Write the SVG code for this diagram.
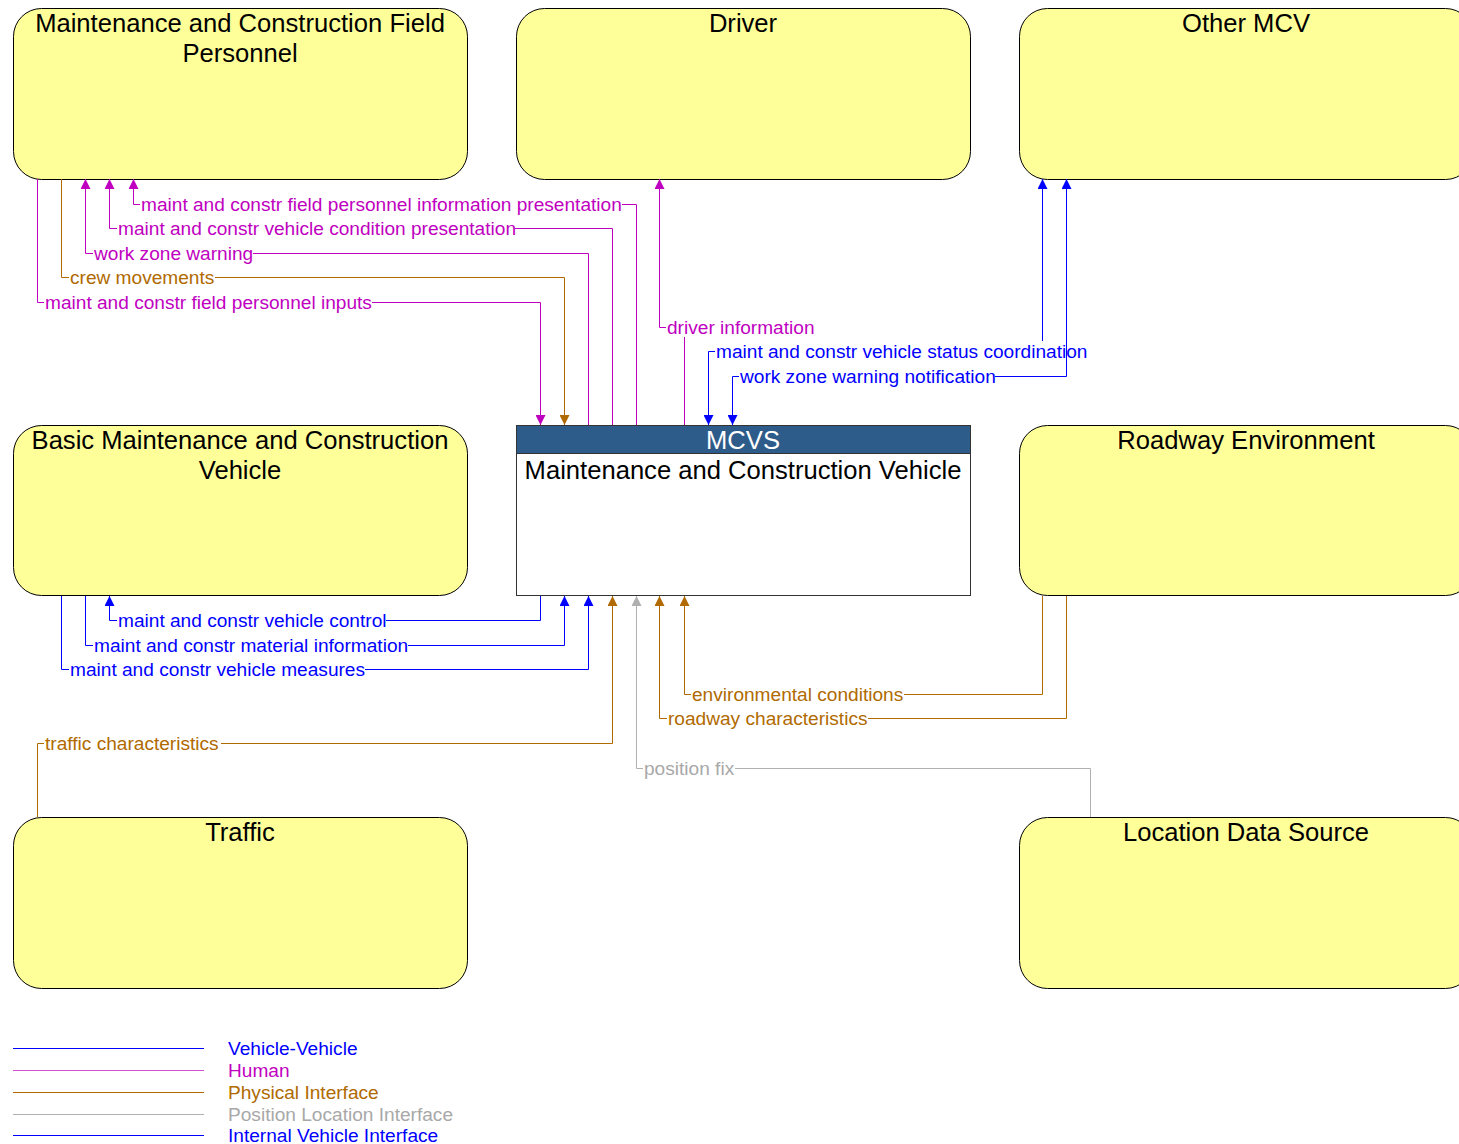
<svg xmlns="http://www.w3.org/2000/svg" width="1459" height="1144" viewBox="0 0 1459 1144">
<style>
.node{fill:#FFFF99;stroke:#000;stroke-width:1}
.title{font-family:"Liberation Sans",Arial,sans-serif;font-size:25.6px;fill:#000;text-anchor:middle}
.lbl{font-family:"Liberation Sans",Arial,sans-serif;font-size:19.1px}
.bg{fill:#fff}
.c{fill:none;stroke-width:1}
.hum{stroke:#C000C0}.humt{fill:#C000C0}
.veh{stroke:#0000FF}.veht{fill:#0000FF}
.phy{stroke:#B06A00}.phyt{fill:#B06A00}
.pos{stroke:#B0B0B0}.post{fill:#A8A8A8}
</style>
<defs>
<marker id="aH" viewBox="0 0 10 10" refX="10" refY="5" markerWidth="10" markerHeight="10" markerUnits="userSpaceOnUse" orient="auto-start-reverse"><path d="M0,0L10,5L0,10z" fill="#C000C0"/></marker>
<marker id="aV" viewBox="0 0 10 10" refX="10" refY="5" markerWidth="10" markerHeight="10" markerUnits="userSpaceOnUse" orient="auto-start-reverse"><path d="M0,0L10,5L0,10z" fill="#0000FF"/></marker>
<marker id="aP" viewBox="0 0 10 10" refX="10" refY="5" markerWidth="10" markerHeight="10" markerUnits="userSpaceOnUse" orient="auto-start-reverse"><path d="M0,0L10,5L0,10z" fill="#B06A00"/></marker>
<marker id="aL" viewBox="0 0 10 10" refX="10" refY="5" markerWidth="10" markerHeight="10" markerUnits="userSpaceOnUse" orient="auto-start-reverse"><path d="M0,0L10,5L0,10z" fill="#B0B0B0"/></marker>
</defs>
<rect width="1459" height="1144" fill="#fff"/>

<g id="node-field-personnel">
<rect class="node" x="13.5" y="8.5" width="454" height="171" rx="28"/>
<text class="title" x="240" y="32">Maintenance and Construction Field</text>
<text class="title" x="240" y="62">Personnel</text>
</g>
<g id="node-driver">
<rect class="node" x="516.5" y="8.5" width="454" height="171" rx="28"/>
<text class="title" x="743" y="32">Driver</text>
</g>
<g id="node-other-mcv">
<rect class="node" x="1019.5" y="8.5" width="454" height="171" rx="28"/>
<text class="title" x="1246" y="32">Other MCV</text>
</g>
<g id="node-basic-mcv">
<rect class="node" x="13.5" y="425.5" width="454" height="170" rx="28"/>
<text class="title" x="240" y="449">Basic Maintenance and Construction</text>
<text class="title" x="240" y="479">Vehicle</text>
</g>
<g id="node-mcvs">
<rect x="516.5" y="425.5" width="454" height="170" fill="#fff" stroke="#333" stroke-width="1"/>
<rect x="516.5" y="425.5" width="454" height="28" fill="#2E5C8A" stroke="#333" stroke-width="1"/>
<text class="title" x="743" y="449" style="fill:#fff">MCVS</text>
<text class="title" x="743" y="479">Maintenance and Construction Vehicle</text>
</g>
<g id="node-roadway-environment">
<rect class="node" x="1019.5" y="425.5" width="454" height="170" rx="28"/>
<text class="title" x="1246" y="449">Roadway Environment</text>
</g>
<g id="node-traffic">
<rect class="node" x="13.5" y="817.5" width="454" height="171" rx="28"/>
<text class="title" x="240" y="841">Traffic</text>
</g>
<g id="node-location-data-source">
<rect class="node" x="1019.5" y="817.5" width="454" height="171" rx="28"/>
<text class="title" x="1246" y="841">Location Data Source</text>
</g>

<g id="connectors">
<g>
<path class="c hum" d="M636.5,425V204.5H133.5V179" marker-end="url(#aH)"/>
<rect class="bg" x="140" y="194" width="482" height="20"/>
<text class="lbl humt" x="141" y="211">maint and constr field personnel information presentation</text>
</g>
<g>
<path class="c hum" d="M612.5,425V228.5H109.5V179" marker-end="url(#aH)"/>
<rect class="bg" x="117" y="218" width="398" height="20"/>
<text class="lbl humt" x="118" y="235">maint and constr vehicle condition presentation</text>
</g>
<g>
<path class="c hum" d="M588.5,425V253.5H85.5V179" marker-end="url(#aH)"/>
<rect class="bg" x="93" y="243" width="160" height="20"/>
<text class="lbl humt" x="94" y="260">work zone warning</text>
</g>
<g>
<path class="c phy" d="M61.5,179V277.5H564.5V425" marker-end="url(#aP)"/>
<rect class="bg" x="69" y="267" width="146" height="20"/>
<text class="lbl phyt" x="70" y="284">crew movements</text>
</g>
<g>
<path class="c hum" d="M37.5,179V302.5H540.5V425" marker-end="url(#aH)"/>
<rect class="bg" x="44" y="292" width="328" height="20"/>
<text class="lbl humt" x="45" y="309">maint and constr field personnel inputs</text>
</g>
<g>
<path class="c hum" d="M684.5,425V327.5H659.5V179" marker-end="url(#aH)"/>
<rect class="bg" x="666" y="317" width="151" height="20"/>
<text class="lbl humt" x="667" y="334">driver information</text>
</g>
<g>
<path class="c veh" d="M1042.5,179V351.5H708.5V425" marker-start="url(#aV)" marker-end="url(#aV)"/>
<rect class="bg" x="715" y="341" width="372" height="20"/>
<text class="lbl veht" x="716" y="358">maint and constr vehicle status coordination</text>
</g>
<g>
<path class="c veh" d="M1066.5,179V376.5H732.5V425" marker-start="url(#aV)" marker-end="url(#aV)"/>
<rect class="bg" x="739" y="366" width="256" height="20"/>
<text class="lbl veht" x="740" y="383">work zone warning notification</text>
</g>
<g>
<path class="c veh" d="M540.5,596V620.5H109.5V596" marker-end="url(#aV)"/>
<rect class="bg" x="117" y="610" width="269" height="20"/>
<text class="lbl veht" x="118" y="627">maint and constr vehicle control</text>
</g>
<g>
<path class="c veh" d="M85.5,596V645.5H564.5V596" marker-end="url(#aV)"/>
<rect class="bg" x="93" y="635" width="315" height="20"/>
<text class="lbl veht" x="94" y="652">maint and constr material information</text>
</g>
<g>
<path class="c veh" d="M61.5,596V669.5H588.5V596" marker-end="url(#aV)"/>
<rect class="bg" x="69" y="659" width="296" height="20"/>
<text class="lbl veht" x="70" y="676">maint and constr vehicle measures</text>
</g>
<g>
<path class="c phy" d="M1042.5,596V694.5H684.5V596" marker-end="url(#aP)"/>
<rect class="bg" x="691" y="684" width="213" height="20"/>
<text class="lbl phyt" x="692" y="701">environmental conditions</text>
</g>
<g>
<path class="c phy" d="M1066.5,596V718.5H659.5V596" marker-end="url(#aP)"/>
<rect class="bg" x="667" y="708" width="201" height="20"/>
<text class="lbl phyt" x="668" y="725">roadway characteristics</text>
</g>
<g>
<path class="c phy" d="M37.5,817V743.5H612.5V596" marker-end="url(#aP)"/>
<rect class="bg" x="44" y="733" width="177" height="20"/>
<text class="lbl phyt" x="45" y="750">traffic characteristics</text>
</g>
<g>
<path class="c pos" d="M1090.5,817V768.5H636.5V596" marker-end="url(#aL)"/>
<rect class="bg" x="643" y="758" width="92" height="20"/>
<text class="lbl post" x="644" y="775">position fix</text>
</g>
</g>

<g id="legend">
<line class="c veh" x1="13" y1="1048.5" x2="204" y2="1048.5"/>
<text class="lbl veht" x="228" y="1055">Vehicle-Vehicle</text>
<line class="c hum" x1="13" y1="1070.5" x2="204" y2="1070.5" style="stroke:#D050D0"/>
<text class="lbl humt" x="228" y="1077">Human</text>
<line class="c phy" x1="13" y1="1092.5" x2="204" y2="1092.5"/>
<text class="lbl phyt" x="228" y="1099">Physical Interface</text>
<line class="c pos" x1="13" y1="1114.5" x2="204" y2="1114.5"/>
<text class="lbl post" x="228" y="1121">Position Location Interface</text>
<line class="c veh" x1="13" y1="1135.5" x2="204" y2="1135.5"/>
<text class="lbl veht" x="228" y="1142">Internal Vehicle Interface</text>
</g>
</svg>
